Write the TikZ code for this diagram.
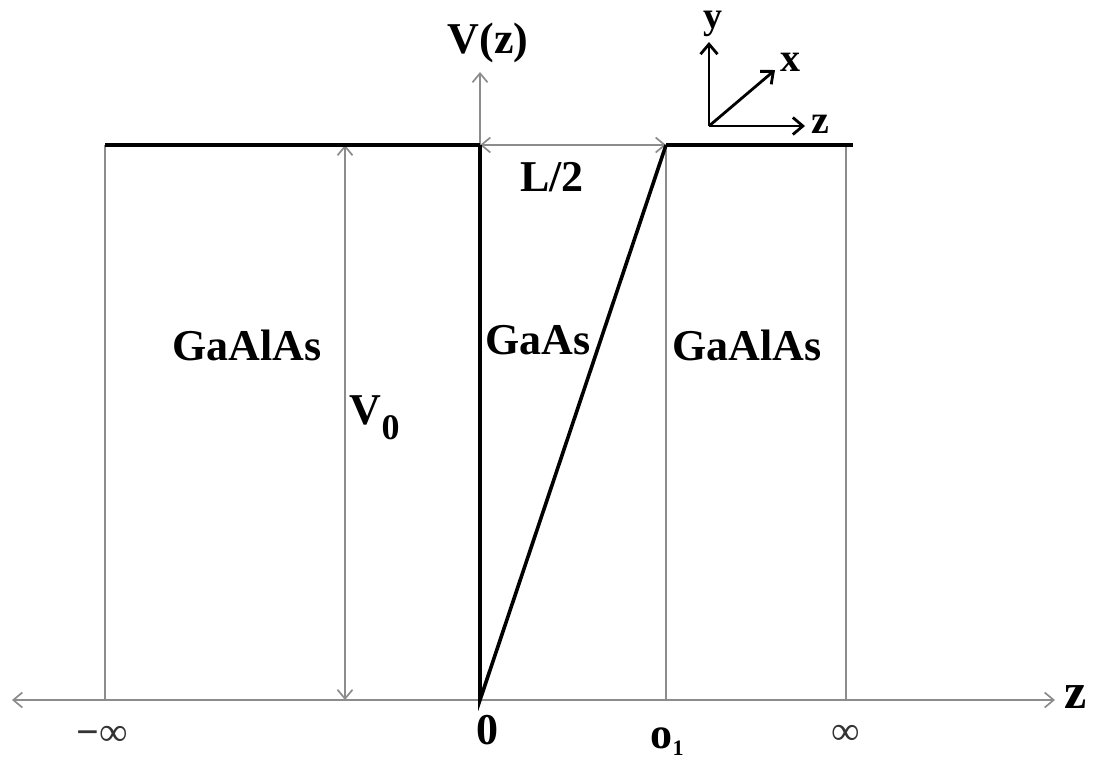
\documentclass[tikz,border=0pt]{standalone}
\usepackage{fontspec}
\setmainfont{Liberation Serif}
\usetikzlibrary{arrows.meta}
\tikzset{
  thinline/.style={draw=black!45, line width=1.7pt},
  wellline/.style={draw=black, line width=3.6pt, line join=miter},
  dimarrow/.style={thinline, {Straight Barb[length=9pt,width=15pt]}-{Straight Barb[length=9pt,width=15pt]}},
  axisarrow/.style={thinline, -{Straight Barb[length=9pt,width=15pt]}},
  framearrow/.style={draw=black, line width=2.8pt, -{Straight Barb[length=10pt,width=17pt]}},
  lbl/.style={font=\fontsize{44}{50}\selectfont\bfseries, inner sep=0pt},
  tick/.style={font=\fontsize{40}{46}\selectfont, inner sep=0pt, text=black!80},
  framelbl/.style={font=\fontsize{40}{46}\selectfont\bfseries, inner sep=0pt}
}
\begin{document}
\begin{tikzpicture}[x=1pt, y=-1pt]
  \useasboundingbox (0,0) rectangle (1115,763);

  % points of the profile
  \coordinate (barL) at (105,145);
  \coordinate (top0) at (480,145);
  \coordinate (topA) at (666,145);
  \coordinate (barR) at (853,145);
  \coordinate (inf) at (846,145);
  \coordinate (orig) at (480,700);
  \coordinate (zleft) at (12,700);
  \coordinate (zright) at (1055,700);
  \coordinate (vtip) at (480,72);
  \coordinate (vnot) at (345,145);

  % axes
  \draw[axisarrow] (orig) -- (zleft);
  \draw[axisarrow] (orig) -- (zright);
  \draw[axisarrow] (top0) -- (vtip);
  \node[lbl, font=\fontsize{50}{56}\selectfont\bfseries] (zlab) at (1076,697) {z};
  \node[lbl] (vlab) at (488,43) {V(z)};

  % region borders
  \draw[thinline] (barL) -- (barL |- orig);
  \draw[thinline] (topA) -- (topA |- orig);
  \draw[thinline] (inf) -- (inf |- orig);

  % dimensions
  \draw[dimarrow] (vnot) -- (vnot |- orig);
  \draw[dimarrow] (top0) -- (topA);
  \node[lbl] (v0lab) at (375,418) {V\textsubscript{\fontsize{36}{40}\selectfont 0}};
  \node[lbl] (llab) at (552,177) {L/2};

  % potential
  \draw[wellline] (barL) -- (top0);
  \draw[wellline] (topA) -- (barR);
  \draw[wellline] (top0) -- (orig) -- (topA);

  % materials
  \node[lbl] (leftmat) at (247,345) {GaAlAs};
  \node[lbl] (well) at (538,340) {GaAs};
  \node[lbl] (rightmat) at (747,345) {GaAlAs};

  % ticks
  \node[tick] (minf) at (102,736) {\textbf{−}∞};
  \node[lbl] (zero) at (487,730) {0};
  \node[lbl, anchor=base] (oone) at (667,748) {o\raisebox{-7pt}{\fontsize{22}{24}\selectfont 1}};
  \node[tick] (pinf) at (846,735) {∞};

  % coordinate frame
  \coordinate (fo) at (709,126);
  \coordinate (fy) at (709,42);
  \coordinate (fx) at (775,70);
  \coordinate (fz) at (805,126);
  \draw[framearrow] (fo) -- (fy);
  \draw[framearrow] (fo) -- (fx);
  \draw[framearrow] (fo) -- (fz);
  \node[framelbl, font=\fontsize{38}{42}\selectfont\bfseries] (ylab) at (713,24) {y};
  \node[framelbl] (xlab) at (790,62) {x};
  \node[framelbl] (zflab) at (820,124) {z};
\end{tikzpicture}
\end{document}
